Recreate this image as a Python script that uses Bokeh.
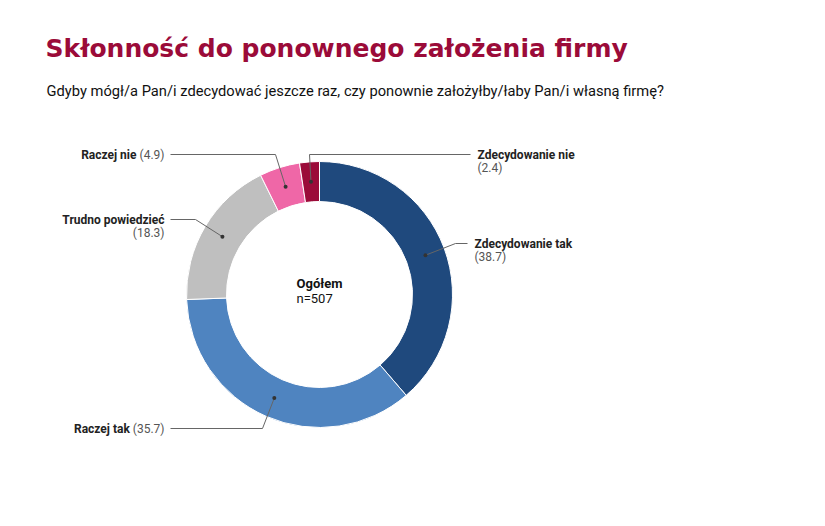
import numpy as np
from bokeh.plotting import figure
from bokeh.models import Range1d
from bokeh.embed import file_html
from bokeh.resources import INLINE
from bokeh.core.properties import value

# ---- data ----
categories = ["Zdecydowanie tak", "Raczej tak", "Trudno powiedzieć", "Raczej nie", "Zdecydowanie nie"]
values = [38.7, 35.7, 18.3, 4.9, 2.4]
colors = ["#1f497d", "#4f84c0", "#bfbfbf", "#ef67a7", "#9b0b39"]
title_text = "Skłonność do ponownego założenia firmy"
subtitle_text = "Gdyby mógł/a Pan/i zdecydować jeszcze raz, czy ponownie założyłby/łaby Pan/i własną firmę?"
center_title = "Ogółem"
center_n = "n=507"

W, H = 809, 510
p = figure(width=W, height=H, output_backend="svg", toolbar_location=None,
           x_range=Range1d(0, W), y_range=Range1d(0, H),
           min_border=0, match_aspect=False)
p.axis.visible = False
p.grid.visible = False
p.outline_line_color = None
p.background_fill_color = "white"
p.border_fill_color = "white"

def Y(sy):  # screen y -> data y
    return H - sy

FONT = "Roboto"
cx, cy = 319, Y(294)
r_in, r_out = 93, 133
r_mid = (r_in + r_out) / 2

vals = np.array(values)
frac = vals / vals.sum()
cum = np.concatenate([[0], np.cumsum(frac)])
# clockwise from 12 o'clock
start = np.pi / 2 - 2 * np.pi * cum[:-1]
end = np.pi / 2 - 2 * np.pi * cum[1:]
p.annular_wedge(x=cx, y=cy, inner_radius=r_in, outer_radius=r_out,
                start_angle=end, end_angle=start, direction="anticlock",
                fill_color=colors, line_color="white", line_width=1)

mid = np.pi / 2 - 2 * np.pi * (cum[:-1] + cum[1:]) / 2
dx = cx + r_mid * np.cos(mid)
dy = cy + r_mid * np.sin(mid)

# leader elbows (screen coords) and ends
elbows = [(455, 243), (262, 428), (195, 219), (275, 154), (309, 154)]
ends = [(467, 243), (170, 428), (170, 219), (170, 154), (470, 154)]
for i in range(len(values)):
    xs = [dx[i], elbows[i][0], ends[i][0]]
    ys = [dy[i], Y(elbows[i][1]), Y(ends[i][1])]
    p.line(xs, ys, line_color="#666666", line_width=1)
p.scatter(dx, dy, size=4, fill_color="#333333", line_color=None)

lab_kw = dict(text_font=value(FONT), text_font_size="12px", text_baseline="middle")
# right side labels
for i, (ex, ey) in [(0, ends[0]), (4, ends[4])]:
    p.text(x=[ex + 7], y=[Y(ey)], text=[categories[i]], text_font_style="bold",
           text_color="#222222", text_align="left", **lab_kw)
    p.text(x=[ex + 7], y=[Y(ey + 13)], text=[f"({values[i]})"],
           text_color="#555555", text_align="left", **lab_kw)
# Trudno powiedzieć: two lines right aligned
i = 2
p.text(x=[ends[i][0] - 6], y=[Y(ends[i][1])], text=[categories[i]], text_font_style="bold",
       text_color="#222222", text_align="right", **lab_kw)
p.text(x=[ends[i][0] - 6], y=[Y(ends[i][1] + 13)], text=[f"({values[i]})"],
       text_color="#555555", text_align="right", **lab_kw)
# single-line left labels: bold name followed by value
for i in (1, 3):
    ex, ey = ends[i]
    num = f"({values[i]})"
    numw = 6.7 * len(num) - 5.5
    p.text(x=[ex - 6], y=[Y(ey)], text=[num], text_color="#555555", text_align="right", **lab_kw)
    p.text(x=[ex - 6 - numw], y=[Y(ey)], text=[categories[i]], text_font_style="bold",
           text_color="#222222", text_align="right", **lab_kw)

# center text
p.text(x=[296], y=[Y(283)], text=[center_title], text_font=value(FONT), text_font_size="13px",
       text_font_style="bold", text_color="#111111", text_baseline="middle")
p.text(x=[296], y=[Y(298)], text=[center_n], text_font=value(FONT), text_font_size="13px",
       text_color="#111111", text_baseline="middle")

# title + subtitle
p.text(x=[45], y=[Y(48)], text=[title_text], text_font=value("DejaVu Sans"), text_font_size="25px",
       text_font_style="bold", text_color="#9b0b39", text_baseline="alphabetic")
p.text(x=[46], y=[Y(90)], text=[subtitle_text], text_font=value(FONT), text_font_size="14.7px",
       text_color="#111111", text_baseline="alphabetic")

open("out.html", "w").write(file_html(p, INLINE))
